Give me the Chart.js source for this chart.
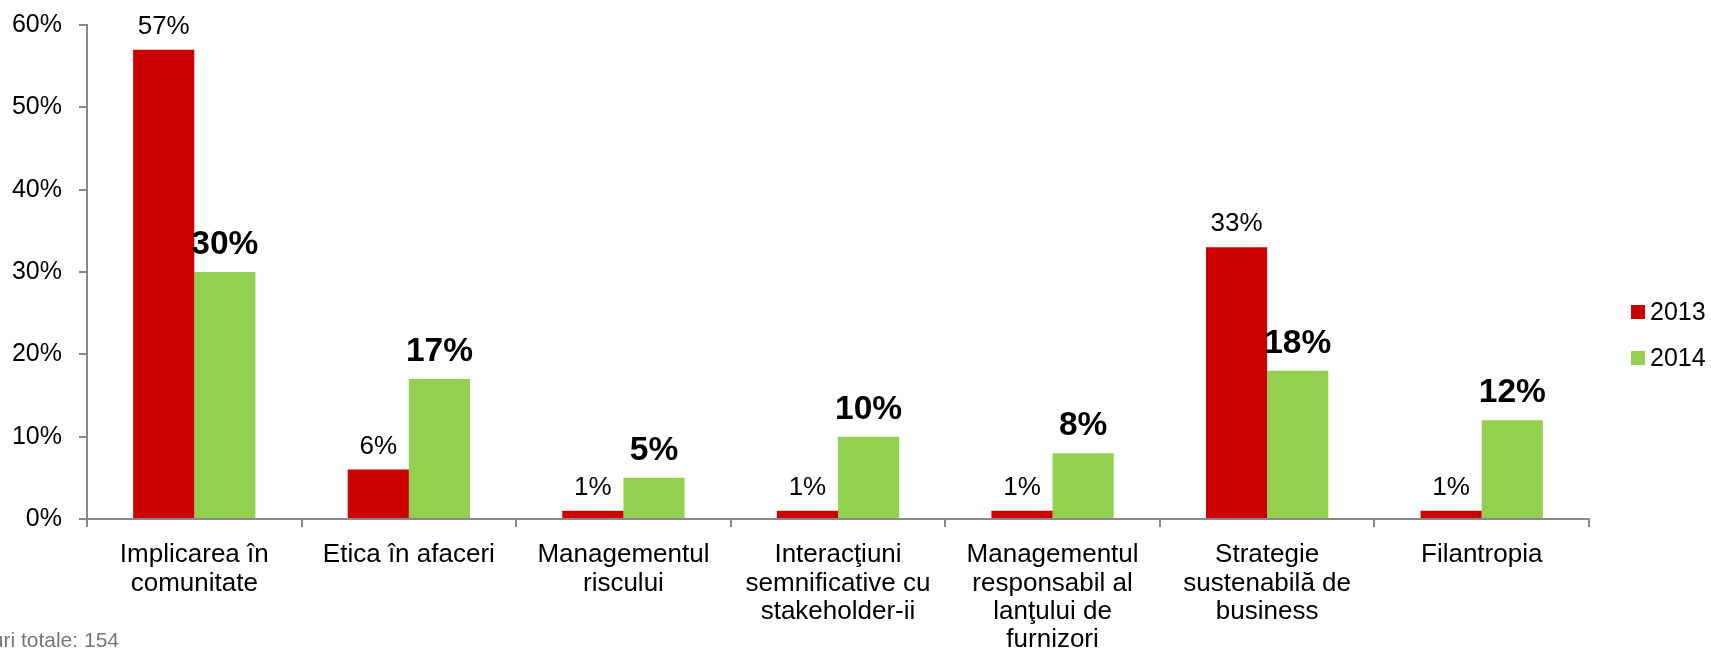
<!DOCTYPE html>
<html>
<head>
<meta charset="utf-8">
<script src="https://cdn.jsdelivr.net/npm/chart.js@4.4.1/dist/chart.umd.min.js"></script>
<style>
  html, body { margin: 0; padding: 0; background: #fff; }
  #wrap { width: 1711px; height: 652px; position: relative; }
</style>
</head>
<body>
<div id="wrap"><canvas id="csrChart"></canvas></div>
<script>
// Categories (wrapped into lines the way they appear under the axis)
const categories = [
    ['Implicarea în', 'comunitate'],
    ['Etica în afaceri'],
    ['Managementul', 'riscului'],
    ['Interacţiuni', 'semnificative cu', 'stakeholder-ii'],
    ['Managementul', 'responsabil al', 'lanţului de', 'furnizori'],
    ['Strategie', 'sustenabilă de', 'business'],
    ['Filantropia']
];

// Share of answers, in percent
const values2013 = [57, 6, 1, 1, 1, 33, 1];
const values2014 = [30, 17, 5, 10, 8, 18, 12];

const seriesLabels = ['2013', '2014'];
const seriesColors = ['#CC0000', '#92D050'];

const yTicks = [0, 10, 20, 30, 40, 50, 60];
const footnote = 'Răspunsuri totale: 154';

const FONT = '"Liberation Sans", Arial, sans-serif';
const AXIS_GREY = '#898989';

// Value labels above each bar: regular for 2013, bold for 2014
const barLabels = {
    id: 'barLabels',
    afterDatasetsDraw(chart) {
        const ctx = chart.ctx;
        ctx.save();
        ctx.fillStyle = '#000';
        ctx.textAlign = 'center';
        ctx.textBaseline = 'alphabetic';
        chart.data.datasets.forEach((ds, di) => {
            const meta = chart.getDatasetMeta(di);
            const bold = di === 1;
            ctx.font = (bold ? 'bold 33.5px ' : '26px ') + FONT;
            meta.data.forEach((bar, i) => {
                ctx.fillText(ds.data[i] + '%', bar.x, bar.y - (bold ? 18 : 16));
            });
        });
        ctx.restore();
    }
};

// Legend on the right plus the respondent count in the corner
const sideNotes = {
    id: 'sideNotes',
    afterDraw(chart) {
        const ctx = chart.ctx;
        const area = chart.chartArea;
        ctx.save();
        ctx.textBaseline = 'middle';
        ctx.textAlign = 'left';
        ctx.font = '25px ' + FONT;
        chart.data.datasets.forEach((ds, i) => {
            const cy = 312 + i * 46;
            const bx = area.right + 42;
            ctx.fillStyle = ds.backgroundColor;
            ctx.fillRect(bx, cy - 7, 14, 14);
            ctx.fillStyle = '#000';
            ctx.fillText(ds.label, bx + 19, cy + 1);
        });

        ctx.fillStyle = '#767676';
        ctx.font = '21px ' + FONT;
        ctx.textAlign = 'right';
        ctx.textBaseline = 'alphabetic';
        ctx.fillText(footnote, 119, 647);
        ctx.restore();
    }
};

const ctx = document.getElementById('csrChart').getContext('2d');
const csrChart = new Chart(ctx, {
    type: 'bar',
    data: {
        labels: categories,
        datasets: [
            {
                label: seriesLabels[0],
                data: values2013,
                backgroundColor: seriesColors[0],
                categoryPercentage: 0.57,
                barPercentage: 1.0
            },
            {
                label: seriesLabels[1],
                data: values2014,
                backgroundColor: seriesColors[1],
                categoryPercentage: 0.57,
                barPercentage: 1.0
            }
        ]
    },
    options: {
        responsive: true,
        maintainAspectRatio: false,
        animation: false,
        layout: {
            padding: { top: 25, right: 122, bottom: 0, left: 0 }
        },
        plugins: {
            legend: { display: false },
            tooltip: { enabled: false }
        },
        scales: {
            x: {
                offset: true,
                grid: {
                    offset: true,
                    drawOnChartArea: false,
                    drawTicks: true,
                    tickLength: 8,
                    color: AXIS_GREY,
                    lineWidth: 2
                },
                border: { color: AXIS_GREY, width: 2 },
                ticks: {
                    color: '#000',
                    padding: 14,
                    maxRotation: 0,
                    autoSkip: false,
                    font: { family: FONT, size: 26, lineHeight: 1.09 }
                },
                afterFit(scale) {
                    scale.height = 133;
                }
            },
            y: {
                min: yTicks[0],
                max: yTicks[yTicks.length - 1],
                afterBuildTicks(scale) {
                    scale.ticks = yTicks.map(v => ({ value: v }));
                },
                grid: {
                    drawOnChartArea: false,
                    drawTicks: true,
                    tickLength: 8,
                    color: AXIS_GREY,
                    lineWidth: 2
                },
                border: { color: AXIS_GREY, width: 2 },
                ticks: {
                    color: '#000',
                    padding: 17,
                    font: { family: FONT, size: 25 },
                    callback: v => v + '%'
                },
                afterFit(scale) {
                    // fixed axis width; top/bottom room comes from layout padding
                    scale.width = 87;
                    scale.paddingTop = 0;
                    scale.paddingBottom = 0;
                }
            }
        }
    },
    plugins: [barLabels, sideNotes]
});
</script>
</body>
</html>
